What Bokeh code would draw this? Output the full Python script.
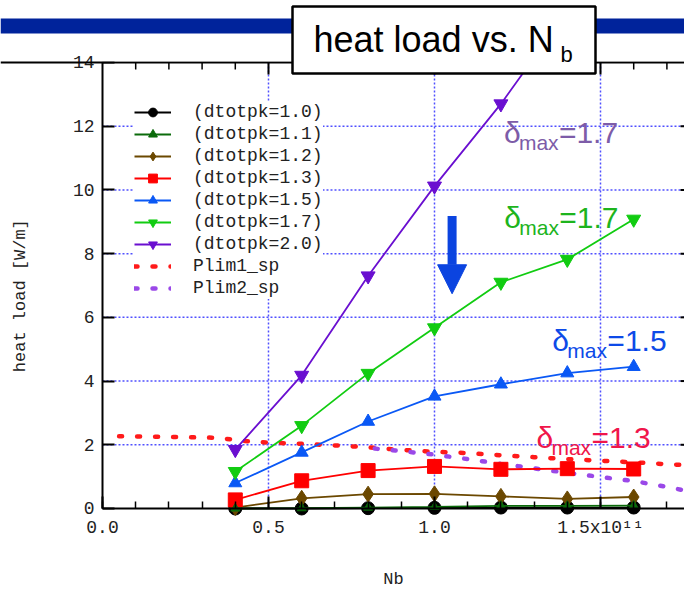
from math import pi

from bokeh.plotting import figure
from bokeh.models import (Range1d, SingleIntervalTicker, CustomJSTickFormatter,
                          Legend, LegendItem, Label, BoxAnnotation, Arrow, NormalHead, Span)
from bokeh.embed import file_html
from bokeh.resources import INLINE

NAN = float("nan")

# bunch intensity Nb, in units of 1e11
nb = [0.4, 0.6, 0.8, 1.0, 1.2, 1.4, 1.6]

# heat load [W/m] for each peak secondary emission yield (nan: off the chart)
dtotpk_10 = [0.00, 0.00, 0.01, 0.02, 0.03, 0.03, 0.03]
dtotpk_11 = [0.00, 0.01, 0.03, 0.05, 0.08, 0.08, 0.09]
dtotpk_12 = [0.03, 0.32, 0.45, 0.46, 0.38, 0.30, 0.36]
dtotpk_13 = [0.27, 0.87, 1.19, 1.32, 1.23, 1.25, 1.24]
dtotpk_15 = [0.80, 1.76, 2.73, 3.52, 3.90, 4.25, 4.45]
dtotpk_17 = [1.16, 2.60, 4.24, 5.67, 7.10, 7.82, 9.08]
dtotpk_20 = [1.85, 4.18, 7.30, 10.12, 12.70, 15.60, NAN]

# cooling-capacity limits
plim1_x = [0.05, 0.35, 0.42, 0.5, 0.6, 0.7, 0.8, 0.9, 1.0, 1.1, 1.2, 1.3, 1.4, 1.5, 1.6, 1.7, 1.76]
plim1_y = [2.27, 2.22, 2.12, 2.07, 2.03, 1.98, 1.92, 1.84, 1.78, 1.74, 1.67, 1.61, 1.55, 1.50, 1.45, 1.39, 1.36]
plim2_x = [0.82, 0.9, 1.0, 1.1, 1.2, 1.3, 1.4, 1.5, 1.6, 1.7, 1.76]
plim2_y = [1.88, 1.80, 1.69, 1.55, 1.40, 1.26, 1.12, 0.99, 0.86, 0.68, 0.55]

series_labels = ["(dtotpk=1.0)", "(dtotpk=1.1)", "(dtotpk=1.2)", "(dtotpk=1.3)",
                 "(dtotpk=1.5)", "(dtotpk=1.7)", "(dtotpk=2.0)"]
limit_labels = ["Plim1_sp", "Plim2_sp"]

# axis extents and guide positions
X_END = 1.753
Y_TOP = 14.0
grid_x = [0.5, 1.0, 1.5]
grid_y = [2, 4, 6, 8, 10, 12]
top_major = [0.5, 1.0, 1.5]
top_minor = [round(0.1 * i, 1) for i in range(1, 18) if i % 5]

# (text, colour, x, y) of the delta_max notes
notes = [("=1.7", "#7d5ca8", 1.209, 11.44),
         ("=1.7", "#1db41d", 1.210, 8.77),
         ("=1.5", "#0d4ae8", 1.355, 4.90),
         ("=1.3", "#f0154a", 1.307, 1.86)]

MONO = "Liberation Mono"
SANS = "Liberation Sans"
INK = "#222222"

# the frame fills the whole canvas; the axes sit at fixed data positions
p = figure(width=684, height=589, output_backend="svg", toolbar_location=None,
           x_range=Range1d(-0.3072, X_END), y_range=Range1d(-2.543, 15.946),
           min_border=0, background_fill_color="white", border_fill_color="white")
p.outline_line_color = None
p.xgrid.visible = False
p.ygrid.visible = False

xa = p.xaxis[0]
xa.fixed_location = 0
xa.bounds = (0, X_END)
xa.ticker = SingleIntervalTicker(interval=0.5, num_minor_ticks=5)
xa.formatter = CustomJSTickFormatter(code="""
    const s = tick.toFixed(1);
    return Math.abs(tick - 1.5) < 1e-9 ? s + "x10\u00b9\u00b9" : s;
""")
ya = p.yaxis[0]
ya.fixed_location = 0
ya.bounds = (0, Y_TOP)
ya.ticker = SingleIntervalTicker(interval=2, num_minor_ticks=0)

for ax in (xa, ya):
    ax.axis_line_width = 2
    ax.major_tick_line_width = 2
    ax.minor_tick_line_width = 1.5
    ax.major_tick_in = 12
    ax.major_tick_out = 0
    ax.minor_tick_in = 7
    ax.minor_tick_out = 0
    ax.major_label_text_font = MONO
    ax.major_label_text_font_size = "18px"
    ax.major_label_text_color = INK
    ax.axis_label_text_font = MONO
    ax.axis_label_text_font_size = "17px"
    ax.axis_label_text_font_style = "normal"
    ax.axis_label_text_color = INK

xa.axis_label = "Nb"
xa.major_label_standoff = 10
xa.axis_label_standoff = 28
ya.axis_label = "heat load [W/m]  "
ya.major_label_standoff = 8
ya.axis_label_standoff = 40

# dotted grid inside the axes box
grid_kw = dict(line_color="#5050ff", line_width=1.5, line_dash="2 2")
p.segment(x0=grid_x, y0=0, x1=grid_x, y1=Y_TOP, **grid_kw)
p.segment(x0=0, y0=grid_y, x1=X_END, y1=grid_y, **grid_kw)

# limit curves
lim1 = p.line(plim1_x, plim1_y, line_color="#ff1a1a", line_width=4.5,
              line_dash="3 15", line_cap="round")
lim2 = p.line(plim2_x, plim2_y, line_color="#9a48e8", line_width=4.5,
              line_dash="3 15", line_cap="round")

styles = [
    (dtotpk_10, "#000000", "circle", 13),
    (dtotpk_12, "#6b4800", "diamond", 16),
    (dtotpk_13, "#ff0000", "square", 14),
    (dtotpk_15, "#0a58f5", "triangle", 13),
    (dtotpk_17, "#11cc11", "inverted_triangle", 14),
    (dtotpk_20, "#6a0fd0", "inverted_triangle", 14),
    (dtotpk_11, "#0b6b0b", "triangle", 9),
]
order = [0, 6, 1, 2, 3, 4, 5]  # legend order: dtotpk 1.0, 1.1, 1.2, ...
renderers = []
for ys, col, mk, sz in styles:
    lr = p.line(nb, ys, line_color=col, line_width=1.8)
    sr = p.scatter(nb, ys, marker=mk, size=sz, fill_color=col, line_color=col)
    renderers.append((lr, sr))

# top axis: line plus inward ticks; stubs of the right-hand ticks at the edge
p.add_layout(Span(location=Y_TOP, dimension="width", line_color="black", line_width=2,
                  level="annotation"))
p.ray(x=top_major, y=Y_TOP, length=12, length_units="screen", angle=-pi / 2,
      line_color="black", line_width=2)
p.ray(x=top_minor, y=Y_TOP, length=7, length_units="screen", angle=-pi / 2,
      line_color="black", line_width=1.5)
p.ray(x=X_END, y=grid_y, length=4, length_units="screen", angle=pi,
      line_color="black", line_width=2)

items = []
for lab, idx in zip(series_labels, order):
    items.append(LegendItem(label=lab, renderers=list(renderers[idx])))
items.append(LegendItem(label=limit_labels[0], renderers=[lim1]))
items.append(LegendItem(label=limit_labels[1], renderers=[lim2]))

legend = Legend(items=items, location=(134, 290), glyph_width=37, glyph_height=22,
                label_height=22, spacing=0, label_standoff=22, padding=4, margin=0,
                border_line_color=None, background_fill_color="white", background_fill_alpha=1,
                label_text_font=MONO, label_text_font_size="18px", label_text_color=INK)
p.add_layout(legend)

# delta_max notes
for txt, col, x, y in notes:
    p.add_layout(Label(x=x, y=y, y_offset=12, text="\u03b4", text_color=col, text_font=SANS,
                       text_font_size="30px", text_baseline="alphabetic"))
    p.add_layout(Label(x=x, y=y, x_offset=15, y_offset=1.5, text="max", text_color=col,
                       text_font=SANS, text_font_size="21px", text_baseline="alphabetic"))
    p.add_layout(Label(x=x, y=y, x_offset=55, y_offset=12, text=txt, text_color=col,
                       text_font=SANS, text_font_size="30px", text_baseline="alphabetic"))

# arrow pointing toward lower heat load
p.add_layout(Arrow(x_start=1.053, y_start=9.18, x_end=1.053, y_end=6.74,
                   line_color="#0b44e0", line_width=9, line_cap="butt",
                   end=NormalHead(size=29, fill_color="#0b44e0", line_color="#0b44e0",
                                  line_width=1)))

# hide anything that runs past the top of the axes box
p.add_layout(BoxAnnotation(left=0, right=X_END + 0.5, bottom=Y_TOP + 0.04, top=Y_TOP + 5,
                           fill_color="white", fill_alpha=1, line_color=None, level="overlay"))

# header bar and title box (screen pixels from the bottom-left corner)
p.add_layout(BoxAnnotation(left=0, right=684, bottom=556, top=571,
                           left_units="screen", right_units="screen",
                           top_units="screen", bottom_units="screen",
                           fill_color="#00239b", fill_alpha=1, line_color=None, level="overlay"))
p.add_layout(BoxAnnotation(left=292, right=595, bottom=516, top=583,
                           left_units="screen", right_units="screen",
                           top_units="screen", bottom_units="screen",
                           fill_color="white", fill_alpha=1, line_color="black",
                           line_width=2.5, line_alpha=1, level="overlay"))
p.add_layout(Label(x=313, y=550, x_units="screen", y_units="screen", text="heat load vs. N",
                   text_font=SANS, text_font_size="36px", text_color="black",
                   text_baseline="alphabetic", level="overlay"))
p.add_layout(Label(x=560, y=535, x_units="screen", y_units="screen", text="b",
                   text_font=SANS, text_font_size="22px", text_color="black",
                   text_baseline="alphabetic", level="overlay"))

open("out.html", "w").write(file_html(p, INLINE))
